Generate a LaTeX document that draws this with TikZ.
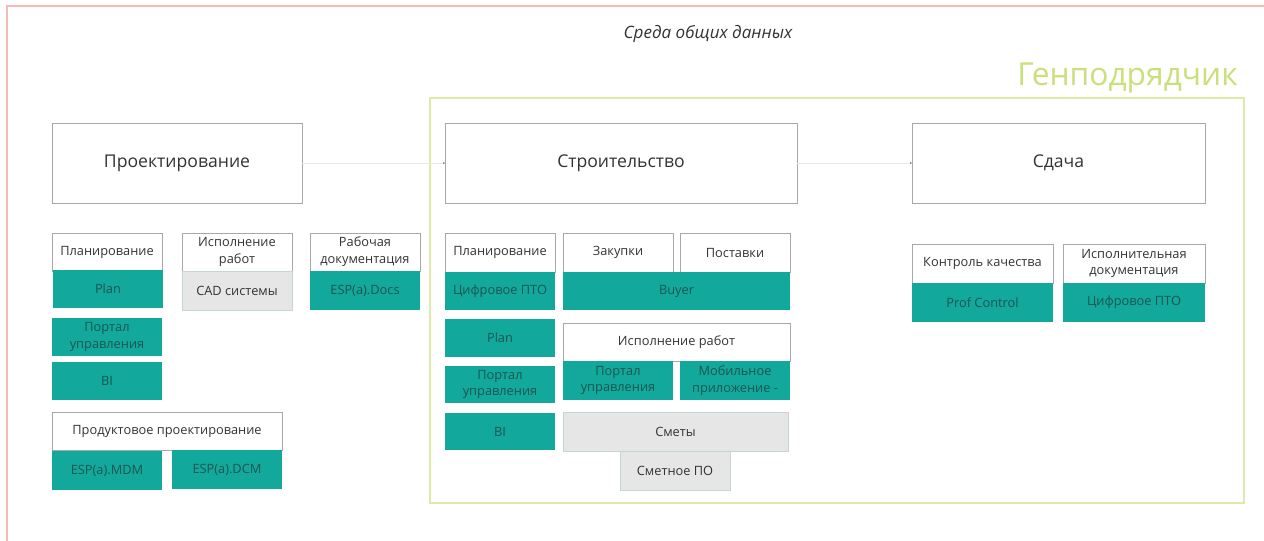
\documentclass[tikz,border=0pt]{standalone}
\usepackage{fontspec}
\setmainfont{Open Sans}
\usetikzlibrary{arrows.meta}
\definecolor{teal1}{HTML}{12A99C}
\definecolor{tealtxt}{HTML}{1B5550}
\definecolor{graybox}{HTML}{E6E6E6}
\definecolor{grayedge}{HTML}{C4D6D6}
\definecolor{hdredge}{HTML}{A8A8A8}
\definecolor{txt}{HTML}{333333}
\definecolor{pinkframe}{HTML}{F4BCB4}
\definecolor{greenframe}{HTML}{DFEAA8}
\definecolor{gentxt}{HTML}{C9E07C}
\definecolor{conn}{HTML}{E6E6E6}
\newcommand\rbox[6]{\node[#1,anchor=north west,minimum width=#4*0.75pt,minimum height=#5*0.75pt] (#2) at (#3) {#6};}
\tikzset{
  base/.style={inner sep=0pt,outer sep=0pt,align=center,font=\fontsize{9.6pt}{12.6pt}\selectfont},
  hdr/.style={base,fill=white,draw=hdredge,line width=0.6pt,text=txt},
  tealb/.style={base,fill=teal1,text=tealtxt},
  grayb/.style={base,fill=graybox,draw=grayedge,line width=0.6pt,text=txt},
  bigbox/.style={base,fill=white,draw=hdredge,line width=0.7pt,text=txt,font=\fontsize{13.2pt}{16pt}\selectfont},
  connector/.style={draw=conn,line width=0.6pt,-{Stealth[length=1.5pt,width=1.5pt,color=gray]}}
}
\begin{document}
\begin{tikzpicture}[x=0.75pt,y=-0.75pt]
\useasboundingbox (0,0) rectangle (1264,541);
\fill[white] (0,0) rectangle (1264,541);
\begin{scope}
\clip (0,0) rectangle (1264,541);
\draw[pinkframe,line width=1pt] (7,6) rectangle (1275,560);
\end{scope}
\node[font=\itshape\fontsize{12.8pt}{14pt}\selectfont,text=txt] (title) at (708,34) {Среда общих данных};
\draw[greenframe,line width=1pt] (430,98) rectangle (1244,503);
\node[anchor=base east,inner sep=0pt,font=\fontsize{23.8pt}{28pt}\selectfont,text=gentxt] (gen) at (1238,86) {Генподрядчик};
% big boxes
\rbox{bigbox}{proj}{52,123}{250}{80}{Проектирование}
\rbox{bigbox}{str}{445,123}{352}{80}{Строительство}
\rbox{bigbox}{sd}{912,123}{293}{80}{Сдача}
\draw[connector] (proj.east) -- (str.west);
\draw[connector] (str.east) -- (sd.west);
% left column
\rbox{hdr}{plan1h}{52,233}{110}{38}{Планирование}
\rbox{tealb}{plan1}{53,270}{110}{38}{Plan}
\rbox{tealb}{portal1}{52,318}{110}{38}{Портал\\управления}
\rbox{tealb}{bi1}{52,362}{110}{38}{BI}
\rbox{hdr}{isp1h}{182,233}{110}{38}{Исполнение\\работ}
\rbox{grayb}{cad}{182,271}{110}{39}{CAD системы}
\rbox{hdr}{rdh}{310,233}{110}{38}{Рабочая\\документация}
\rbox{tealb}{docs}{310,271}{110}{39}{ESP(a).Docs}
\rbox{hdr}{prodh}{52,412}{230}{38}{Продуктовое проектирование}
\rbox{tealb}{mdm}{52,451}{110}{39}{ESP(a).MDM}
\rbox{tealb}{dcm}{172,450}{110}{39}{ESP(a).DCM}
% middle column
\rbox{hdr}{plan2h}{445,233}{110}{39}{Планирование}
\rbox{tealb}{cpto2}{445,272}{110}{38}{Цифровое ПТО}
\rbox{tealb}{plan2}{445,319}{110}{38}{Plan}
\rbox{tealb}{portal2}{445,366}{110}{37}{Портал\\управления}
\rbox{tealb}{bi2}{445,413}{110}{37}{BI}
\rbox{hdr}{zak}{563,233}{110}{39}{Закупки}
\rbox{hdr}{post}{680,233}{110}{39}{Поставки}
\rbox{tealb}{buyer}{563,272}{227}{38}{Buyer}
\rbox{hdr}{isp2h}{563,323}{227}{38}{Исполнение работ}
\rbox{tealb}{portal3}{563,361}{110}{39}{Портал\\управления}
\rbox{tealb}{mob}{680,361}{110}{39}{Мобильное\\приложение -}
\rbox{grayb}{smety}{563,412}{225}{39}{Сметы}
\rbox{grayb}{smpo}{620,451}{110}{39}{Сметное ПО}
% right column
\rbox{hdr}{kk}{912,244}{141}{39}{Контроль качества}
\rbox{tealb}{pc}{912,283}{141}{39}{Prof Control}
\rbox{hdr}{idh}{1063,244}{142}{39}{Исполнительная\\документация}
\rbox{tealb}{cpto3}{1063,283}{142}{39}{Цифровое ПТО}
\end{tikzpicture}
\end{document}
